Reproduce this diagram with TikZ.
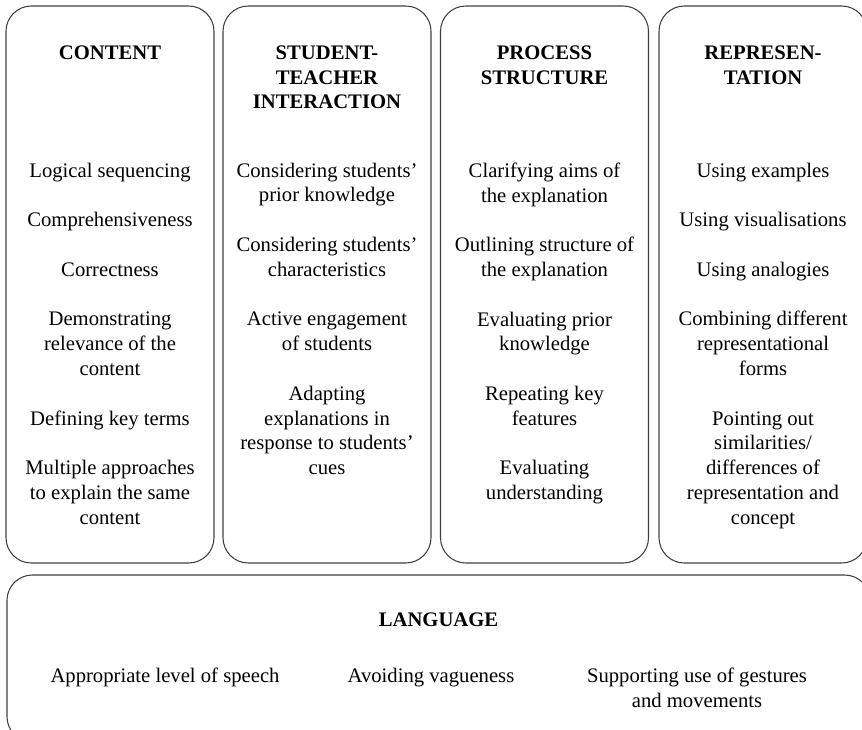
\documentclass[tikz,border=0pt]{standalone}
\usepackage{fontspec}
\setmainfont{Liberation Serif}
\usetikzlibrary{positioning}

\begin{document}
\begin{tikzpicture}[x=0.75pt,y=-0.75pt,
  colbox/.style={draw=black!75, line width=0.8pt, rounded corners=19pt, minimum width=156pt, minimum height=417.75pt, inner sep=0pt},
  headnode/.style={font=\fontsize{15.5}{18.45}\selectfont\bfseries, align=center, inner sep=0pt},
  itemnode/.style={font=\fontsize{15.5}{18.6}\selectfont, align=center, inner sep=0pt}]
\useasboundingbox (0,0) rectangle (862,729);
%Boxes
\node[colbox] (content)  at (110,284.5) {};
\node[colbox] (interact) at (327,284.5) {};
\node[colbox] (process)  at (544.5,284.5) {};
\node[colbox] (repres)   at (763,284.5) {};
\node[colbox, minimum width=647.25pt, minimum height=125.25pt] (language) at (438.5,658.5) {};

%Headings
\node[headnode] (contenthead)  [below=30pt of content.north]  {CONTENT};
\node[headnode] (interacthead) [below=30pt of interact.north] {STUDENT-\\TEACHER\\INTERACTION};
\node[headnode] (processhead)  [below=30pt of process.north]  {PROCESS\\STRUCTURE};
\node[headnode] (represhead)   [below=30pt of repres.north]   {REPRESEN-\\TATION};
\node[headnode] (languagehead) [below=28.5pt of language.north] {LANGUAGE};

%Items
\node[itemnode] (contentitems) [below=117.75pt of content.north] {Logical sequencing\\[18.6pt]
  Comprehensiveness\\[18.6pt] Correctness\\[18.6pt] Demonstrating\\relevance of the\\content\\[18.6pt]
  Defining key terms\\[18.6pt] Multiple approaches\\to explain the same\\content};
\node[itemnode] (interactitems) [below=117.75pt of interact.north] {Considering students’\\prior knowledge\\[18.6pt]
  Considering students’\\characteristics\\[18.6pt] Active engagement\\of students\\[18.6pt]
  Adapting\\explanations in\\response to students’\\cues};
\node[itemnode] (processitems) [below=117.75pt of process.north] {Clarifying aims of\\the explanation\\[18.6pt]
  Outlining structure of\\the explanation\\[18.6pt] Evaluating prior\\knowledge\\[18.6pt]
  Repeating key\\features\\[18.6pt] Evaluating\\understanding};
\node[itemnode] (repritems) [below=117.75pt of repres.north] {Using examples\\[18.6pt]
  Using visualisations\\[18.6pt] Using analogies\\[18.6pt] Combining different\\representational\\forms\\[18.6pt]
  Pointing out\\similarities/\\differences of\\representation and\\concept};

\node[itemnode, anchor=north] (speech)    at (165,668) {Appropriate level of speech};
\node[itemnode, anchor=north] (vagueness) at (431,668) {Avoiding vagueness};
\node[itemnode, anchor=north] (gestures)  at (697,668) {Supporting use of gestures\\and movements};
\end{tikzpicture}
\end{document}
